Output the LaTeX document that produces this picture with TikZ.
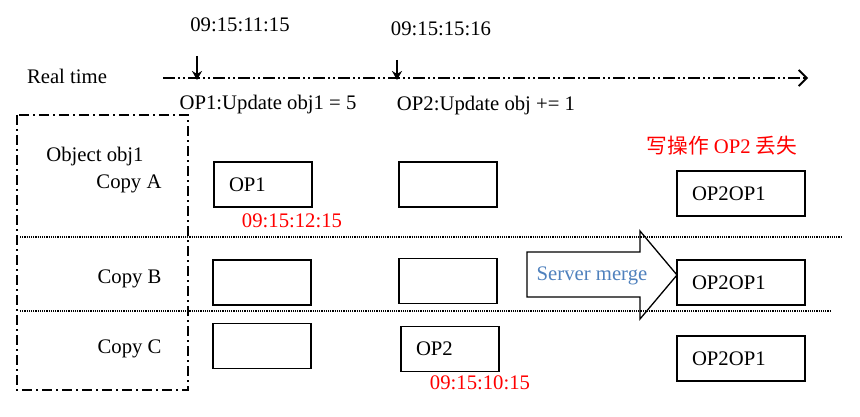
\documentclass[tikz,border=0pt]{standalone}
\usepackage{fontspec}
\setmainfont{Liberation Serif}
\newfontfamily\cjk{Noto Sans CJK SC}
\usepackage{tikz}
\usetikzlibrary{arrows.meta}
\definecolor{mergeblue}{RGB}{79,129,189}
\tikzset{
    opbox/.style={draw, line width=1.3pt, minimum height=45pt, inner xsep=15pt, inner ysep=0pt, text width=68pt, align=left},
    resbox/.style={opbox, text width=98pt},
    redtime/.style={text=red},
    rowsep/.style={line width=2pt, dash pattern=on 1.2pt off 1pt},
    objframe/.style={line width=2pt, dash pattern=on 10pt off 4pt on 2pt off 4pt},
    timeline/.style={line width=2pt, dash pattern=on 12pt off 3pt on 2pt off 3pt on 2pt off 3pt}
}
\begin{document}
\begin{tikzpicture}[x=1pt,y=-1pt,font=\fontsize{20.7}{24}\selectfont]
    \useasboundingbox (0,0) rectangle (860,417);
    % time axis
    \node (rt) at (67,76) {Real time};
    \coordinate (tl0) at (163,78);
    \coordinate (tl1) at (808,78);
    \draw [timeline,-{Straight Barb[length=8pt,width=16pt,line width=1.8pt]}] (tl0) -- (tl1);
    \node (t1) at (240,25) {09:15:11:15};
    \node (t2) at (441,29) {09:15:15:16};
    \coordinate (d1) at (197,56);
    \coordinate (m1) at (197,80);
    \coordinate (d2) at (397,60);
    \coordinate (m2) at (397,80);
    \foreach \i in {1,2}
    {
    \draw [line width=1.8pt,-{Stealth[length=9pt,width=10pt]}] (d\i) -- (m\i);
    }
    \node (op1) at (268,105) {OP1:Update obj1 = 5};
    \node (op2) at (486,106) {OP2:Update obj += 1};
    % object and its copies
    \draw [rowsep] (20,237) -- (842,237);
    \draw [rowsep] (20,311) -- (830,311);
    \draw [objframe] (17,115) rectangle (188,390);
    \node (obj) at (95,157) {Object obj1};
    \node [anchor=east] (ca) at (165,184) {Copy A};
    \node [anchor=east] (cb) at (165,279) {Copy B};
    \node [anchor=east] (cc) at (165,349) {Copy C};
    \node [opbox] (a1) at (263,184.5) {OP1};
    \node [opbox] (a2) at (448,184.5) {};
    \node [opbox] (b1) at (262,282.5) {};
    \node [opbox] (b2) at (448,281) {};
    \node [opbox] (c1) at (262,346) {};
    \node [opbox] (c2) at (450,349) {OP2};
    \node [redtime] (ta) at (292,221) {09:15:12:15};
    \node [redtime] (tc) at (480,383) {09:15:10:15};
    % merge
    \draw [line width=1.3pt,line join=miter] (527,252) -- (640,252) -- (640,231) -- (677,275) -- (640,319) -- (640,297) -- (527,297) -- cycle;
    \node [text=mergeblue] (merge) at (592,276) {Server merge};
    \node [resbox] (ra) at (741,193.5) {OP2OP1};
    \node [resbox] (rb) at (741,282.5) {OP2OP1};
    \node [resbox] (rc) at (741,358.5) {OP2OP1};
    \node [redtime] (lost) at (722,146) {{\cjk 写操作} OP2 {\cjk 丢失}};
\end{tikzpicture}
\end{document}
